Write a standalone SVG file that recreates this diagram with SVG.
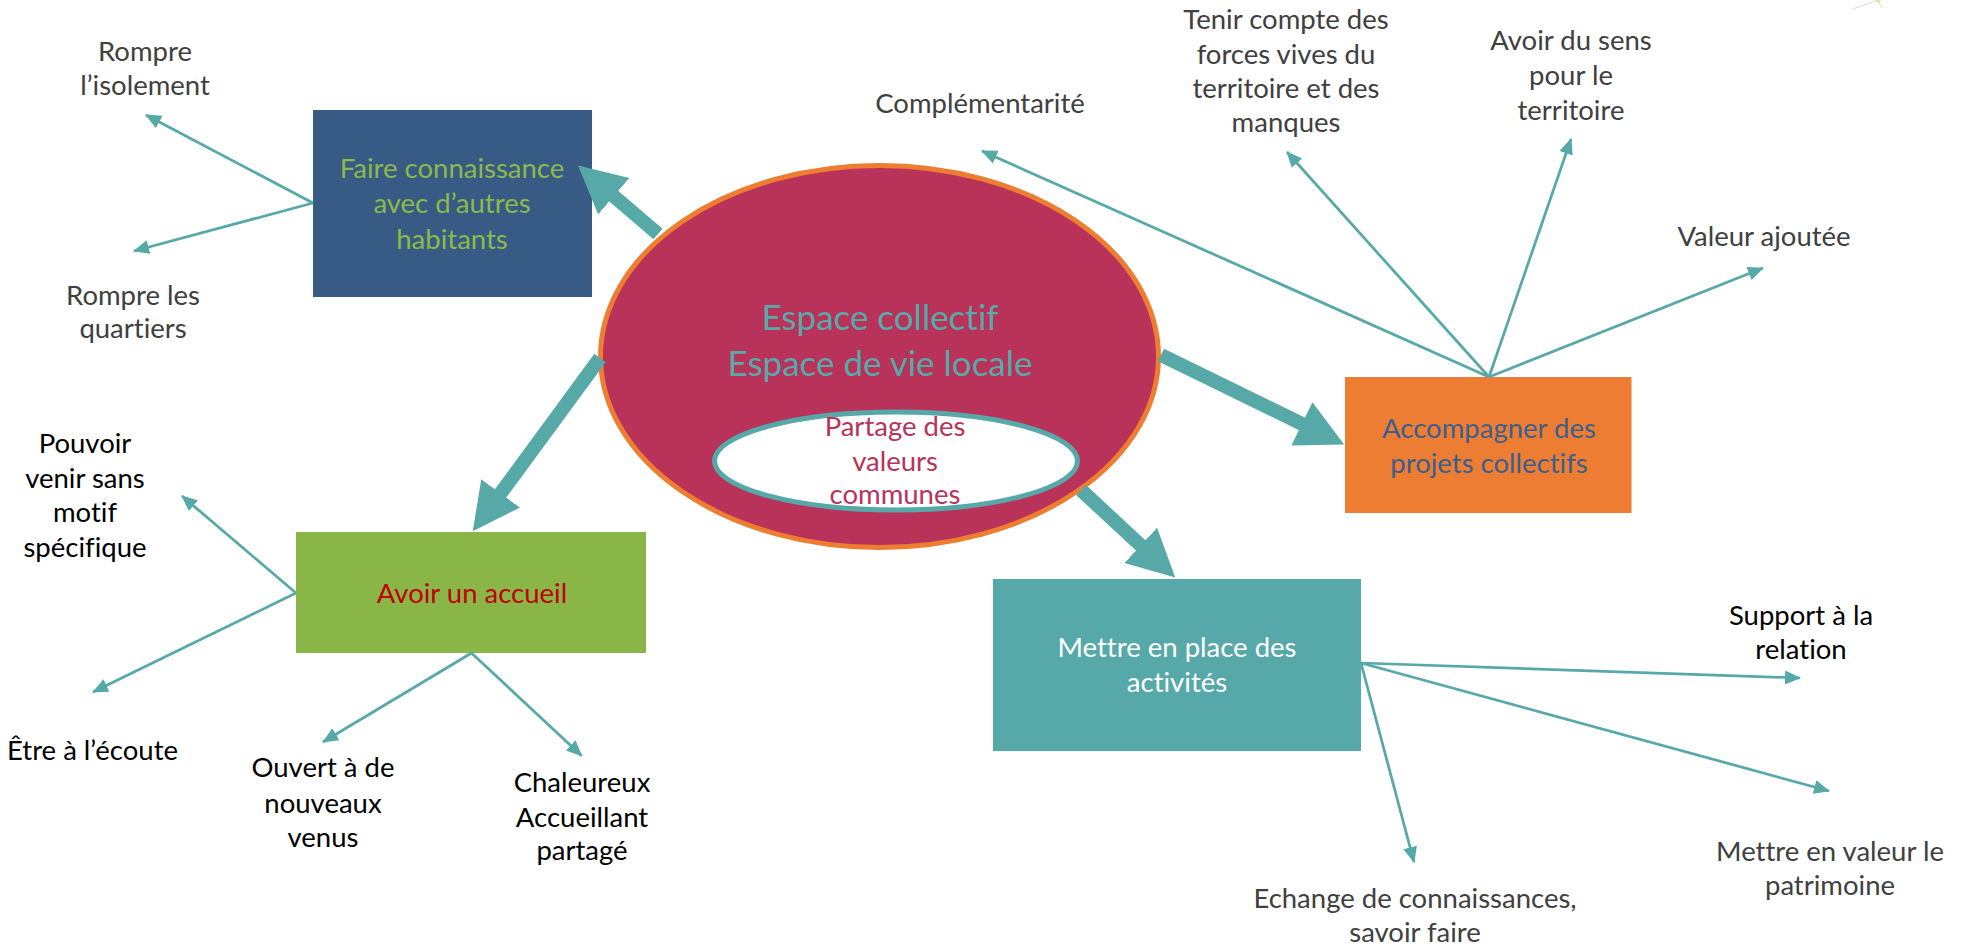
<svg xmlns="http://www.w3.org/2000/svg" width="1964" height="947" viewBox="0 0 1964 947">
<style>
  text { font-family: Lato, "Open Sans", "Liberation Sans", sans-serif; text-anchor: middle; font-variant-ligatures: none; font-feature-settings: "liga" 0, "clig" 0; }
  .lbl { font-size: 27.5px; }
  .gray { fill: #404040; }
  .black { fill: #000000; }
  .thin { stroke: #57A9A8; stroke-width: 2.75; fill: none; marker-end: url(#tip); }
  .thick { stroke: #57A9A8; stroke-width: 14; fill: none; marker-end: url(#bigtip); }
</style>
<defs>
  <marker id="tip" markerUnits="userSpaceOnUse" viewBox="0 -8 17 16" refX="15" refY="0" markerWidth="17" markerHeight="16" orient="auto">
    <path d="M0,-7 L16,0 L0,7 z" fill="#57A9A8"/>
  </marker>
  <marker id="bigtip" markerUnits="userSpaceOnUse" viewBox="0 -25 48 50" refX="1" refY="0" markerWidth="48" markerHeight="50" orient="auto">
    <path d="M0,-24 L47,0 L0,24 z" fill="#57A9A8"/>
  </marker>
</defs>
<rect width="1964" height="947" fill="#ffffff"/>

<g id="logo-fragment" opacity="0.5">
  <line x1="1853" y1="9" x2="1877" y2="0" stroke="#bbbbbb" stroke-width="1"/>
  <line x1="1878" y1="1" x2="1882" y2="8" stroke="#bbbbbb" stroke-width="1"/>
  <circle cx="1878" cy="0" r="2.5" fill="#a8d24a"/>
</g>

<g id="espace">
  <ellipse cx="879.5" cy="356.5" rx="279" ry="191" fill="#B8325A" stroke="#ED7D31" stroke-width="5"/>
  <text x="880" y="330" font-size="35" fill="#57AAA9">Espace collectif</text>
  <text x="880" y="376" font-size="35" fill="#57AAA9">Espace de vie locale</text>
</g>
<g id="partage">
  <ellipse cx="896" cy="461" rx="181.5" ry="49" fill="#ffffff" stroke="#57A9A8" stroke-width="5"/>
  <text class="lbl" x="895" y="436" fill="#B8325A">Partage des</text>
  <text class="lbl" x="895" y="471" fill="#B8325A">valeurs</text>
  <text class="lbl" x="895" y="504" fill="#B8325A">communes</text>
</g>

<g id="faire-connaissance">
  <rect x="313" y="110" width="279" height="187" fill="#375B85"/>
  <text class="lbl" x="452" y="178" fill="#8DB94B">Faire connaissance</text>
  <text class="lbl" x="452" y="213" fill="#8DB94B">avec d’autres</text>
  <text class="lbl" x="452" y="249" fill="#8DB94B">habitants</text>
</g>
<g id="avoir-accueil">
  <rect x="296" y="532" width="350" height="121" fill="#8AB648"/>
  <text class="lbl" x="472" y="603" fill="#C00000">Avoir un accueil</text>
</g>
<g id="accompagner">
  <rect x="1345" y="377" width="286.5" height="136" fill="#ED7D32"/>
  <text class="lbl" x="1489" y="438" fill="#3B5F8F">Accompagner des</text>
  <text class="lbl" x="1489" y="473" fill="#3B5F8F">projets collectifs</text>
</g>
<g id="activites">
  <rect x="993" y="579" width="368" height="172" fill="#57A9A9"/>
  <text class="lbl" x="1177" y="657" fill="#ffffff">Mettre en place des</text>
  <text class="lbl" x="1177" y="692" fill="#ffffff">activités</text>
</g>

<g id="rompre-isolement" class="lbl gray">
  <text x="145" y="61">Rompre</text>
  <text x="145" y="95">l’isolement</text>
</g>
<g id="rompre-quartiers" class="lbl gray">
  <text x="133" y="305">Rompre les</text>
  <text x="133" y="338">quartiers</text>
</g>
<g id="pouvoir-venir" class="lbl black">
  <text x="85" y="453">Pouvoir</text>
  <text x="85" y="488">venir sans</text>
  <text x="85" y="522">motif</text>
  <text x="85" y="557">spécifique</text>
</g>
<g id="etre-ecoute" class="lbl black">
  <text x="92.5" y="760">Être à l’écoute</text>
</g>
<g id="ouvert" class="lbl black">
  <text x="323" y="777">Ouvert à de</text>
  <text x="323" y="813">nouveaux</text>
  <text x="323" y="847">venus</text>
</g>
<g id="chaleureux" class="lbl black">
  <text x="582" y="792">Chaleureux</text>
  <text x="582" y="827">Accueillant</text>
  <text x="582" y="860">partagé</text>
</g>
<g id="complementarite" class="lbl gray">
  <text x="980" y="113">Complémentarité</text>
</g>
<g id="tenir-compte" class="lbl gray">
  <text x="1286" y="29">Tenir compte des</text>
  <text x="1286" y="63.5">forces vives du</text>
  <text x="1286" y="98">territoire et des</text>
  <text x="1286" y="132">manques</text>
</g>
<g id="avoir-sens" class="lbl gray">
  <text x="1571" y="50">Avoir du sens</text>
  <text x="1571" y="85">pour le</text>
  <text x="1571" y="120">territoire</text>
</g>
<g id="valeur-ajoutee" class="lbl gray">
  <text x="1764" y="246">Valeur ajoutée</text>
</g>
<g id="support-relation" class="lbl black">
  <text x="1801" y="625">Support à la</text>
  <text x="1801" y="659">relation</text>
</g>
<g id="mettre-valeur" class="lbl gray">
  <text x="1830" y="861">Mettre en valeur le</text>
  <text x="1830" y="895">patrimoine</text>
</g>
<g id="echange" class="lbl gray">
  <text x="1415" y="908">Echange de connaissances,</text>
  <text x="1415" y="942">savoir faire</text>
</g>

<g id="connectors">
  <line class="thick" x1="658" y1="234" x2="613" y2="195.5"/>
  <line class="thick" x1="600" y1="358" x2="500" y2="494.2"/>
  <line class="thick" x1="1161" y1="355" x2="1302.8" y2="424.3"/>
  <line class="thick" x1="1081" y1="490" x2="1141.5" y2="546.1"/>

  <line class="thin" x1="313" y1="203" x2="146" y2="115"/>
  <line class="thin" x1="313" y1="203" x2="134" y2="251"/>
  <line class="thin" x1="296" y1="593" x2="182" y2="496"/>
  <line class="thin" x1="296" y1="593" x2="93" y2="692"/>
  <line class="thin" x1="471.5" y1="653" x2="323" y2="742"/>
  <line class="thin" x1="471.5" y1="653" x2="581.7" y2="755.7"/>
  <line class="thin" x1="1489" y1="377" x2="982" y2="151"/>
  <line class="thin" x1="1489" y1="377" x2="1287" y2="152"/>
  <line class="thin" x1="1489" y1="377" x2="1571" y2="139"/>
  <line class="thin" x1="1489" y1="377" x2="1763" y2="268"/>
  <line class="thin" x1="1361" y1="663" x2="1800" y2="678"/>
  <line class="thin" x1="1361" y1="663" x2="1829" y2="791"/>
  <line class="thin" x1="1361" y1="663" x2="1414" y2="862"/>
</g>
</svg>
